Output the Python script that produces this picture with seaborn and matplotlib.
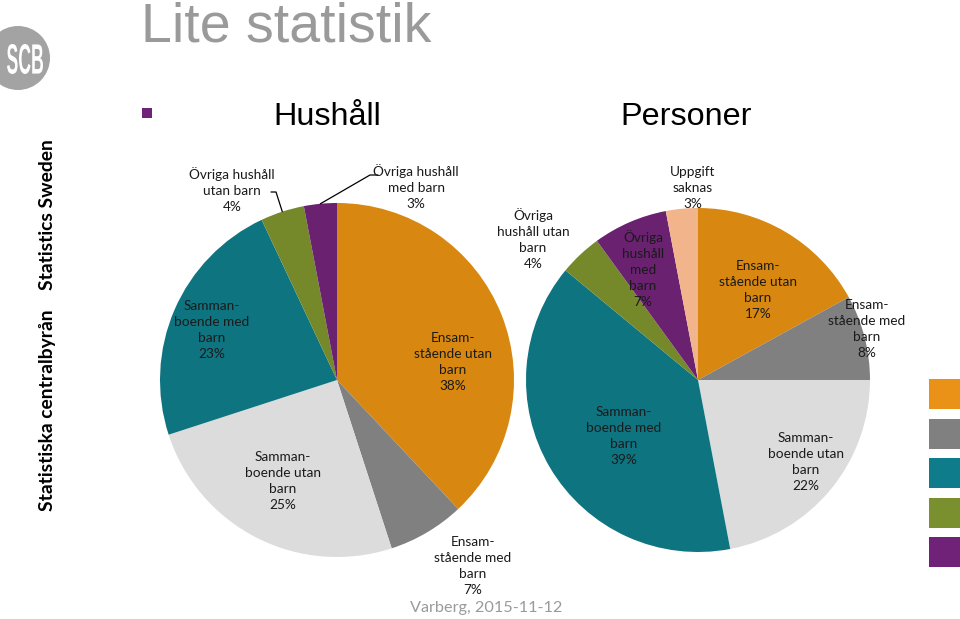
import matplotlib
matplotlib.use("Agg")
import matplotlib.pyplot as plt
import seaborn as sns
import numpy as np
from matplotlib.textpath import TextPath
from matplotlib.patches import PathPatch, Circle, Rectangle
from matplotlib.transforms import Affine2D
from matplotlib.font_manager import FontProperties

W, H = 960, 619

# --- data ---
hush_categories = ["Ensamstående utan barn", "Ensamstående med barn",
                   "Sammanboende utan barn", "Sammanboende med barn",
                   "Övriga hushåll utan barn", "Övriga hushåll med barn"]
hush_values = [38, 7, 25, 23, 4, 3]
hush_labels = ["Ensam-\nstående utan\nbarn", "Ensam-\nstående med\nbarn",
               "Samman-\nboende utan\nbarn", "Samman-\nboende med\nbarn",
               "Övriga hushåll\nutan barn", "Övriga hushåll\nmed barn"]

pers_categories = hush_categories + ["Uppgift saknas"]
pers_values = [17, 8, 22, 39, 4, 7, 3]
pers_labels = ["Ensam-\nstående utan\nbarn", "Ensam-\nstående med\nbarn",
               "Samman-\nboende utan\nbarn", "Samman-\nboende med\nbarn",
               "Övriga\nhushåll utan\nbarn", "Övriga\nhushåll\nmed\nbarn",
               "Uppgift\nsaknas"]

pie_colors = ["#D88811", "#808080", "#DCDCDC", "#0E7480", "#76892A", "#6A2170", "#F2B48A"]
legend_colors = ["#EA9218", "#808080", "#0E7C8A", "#7A8F2E", "#6F2277"]

# --- layout (pixel positions, y measured from top) ---
hush_center, hush_radius = (337, 380), 177
pers_center, pers_radius = (698, 380), 172
hush_label_pos = [(453, 362), (473, 566), (283, 481), (212, 330), (232, 190), (416, 187)]
pers_label_pos = [(758, 290), (867, 329), (806, 462), (624, 436), (533, 239), (643, 269), (693, 188)]
# leader lines for the two small household slices: (slice index, text-side points)
hush_leaders = [(4, [(271, 192), (276, 192)]), (5, [(378, 175), (370, 175)])]


def Y(y):
    return H - y


sns.set_theme(style="white")
plt.rcParams["font.family"] = ["Lato", "DejaVu Sans"]

fig = plt.figure(figsize=(W / 100, H / 100), dpi=100)
ax = fig.add_axes([0, 0, 1, 1])


def draw_pie(values, labels, center, radius, label_pos):
    wedges, _ = ax.pie(values, colors=pie_colors[:len(values)], startangle=90,
                       counterclock=False, center=(center[0], Y(center[1])),
                       radius=radius, wedgeprops=dict(linewidth=0))
    for lab, v, (x, y) in zip(labels, values, label_pos):
        ax.text(x, Y(y), f"{lab}\n{v}%", ha="center", va="center",
                fontsize=9.8, color="#1a1a1a", linespacing=1.38)
    return wedges


hush_wedges = draw_pie(hush_values, hush_labels, hush_center, hush_radius, hush_label_pos)
pers_wedges = draw_pie(pers_values, pers_labels, pers_center, pers_radius, pers_label_pos)

for idx, pts in hush_leaders:
    w = hush_wedges[idx]
    mid = np.deg2rad((w.theta1 + w.theta2) / 2)
    ex = w.center[0] + w.r * np.cos(mid)
    ey = w.center[1] + w.r * np.sin(mid)
    xs = [p[0] for p in pts] + [ex]
    ys = [Y(p[1]) for p in pts] + [ey]
    ax.plot(xs, ys, color="black", lw=0.9)

# titles
ax.text(141, Y(42), "Lite statistik", fontsize=40, color="#9a9a9a",
        family="Liberation Sans", va="baseline", ha="left")
ax.text(327, Y(125), "Hushåll", fontsize=23.3, color="black",
        family="Liberation Sans", va="baseline", ha="center")
ax.text(686, Y(125), "Personer", fontsize=23.3, color="black",
        family="Liberation Sans", va="baseline", ha="center")
ax.add_patch(Rectangle((142, Y(118)), 10, 10, color="#6F2277", lw=0))

# right-hand colour squares
for i, c in enumerate(legend_colors):
    top = 379 + i * 39.5
    ax.add_patch(Rectangle((929, Y(top + 30)), 40, 30, color=c, lw=0))

# SCB logo
ax.add_patch(Circle((18, Y(58)), 32, color="#a3a3a3", lw=0))
tp = TextPath((0, 0), "SCB", size=30, prop=FontProperties(family="Liberation Sans", weight="bold"))
bb = tp.get_extents()
sx = 36 / bb.width
sy = 30 / bb.height
tr = Affine2D().translate(-bb.x0, -bb.y0).scale(sx, sy).translate(7, Y(74))
ax.add_patch(PathPatch(tr.transform_path(tp), color="white", lw=0))

ax.text(48, Y(215), "Statistics Sweden", rotation=90, fontsize=13.9,
        fontweight="bold", color="black", ha="center", va="center")
ax.text(48, Y(410), "Statistiska centralbyrån", rotation=90, fontsize=13.9,
        fontweight="bold", color="black", ha="center", va="center")

ax.text(486, Y(608), "Varberg, 2015-11-12", fontsize=11.7, color="#9a9a9a",
        ha="center", va="center")

ax.set_xlim(0, W)
ax.set_ylim(0, H)
ax.set_aspect("equal")
ax.axis("off")

fig.savefig("out.png", dpi=100)
